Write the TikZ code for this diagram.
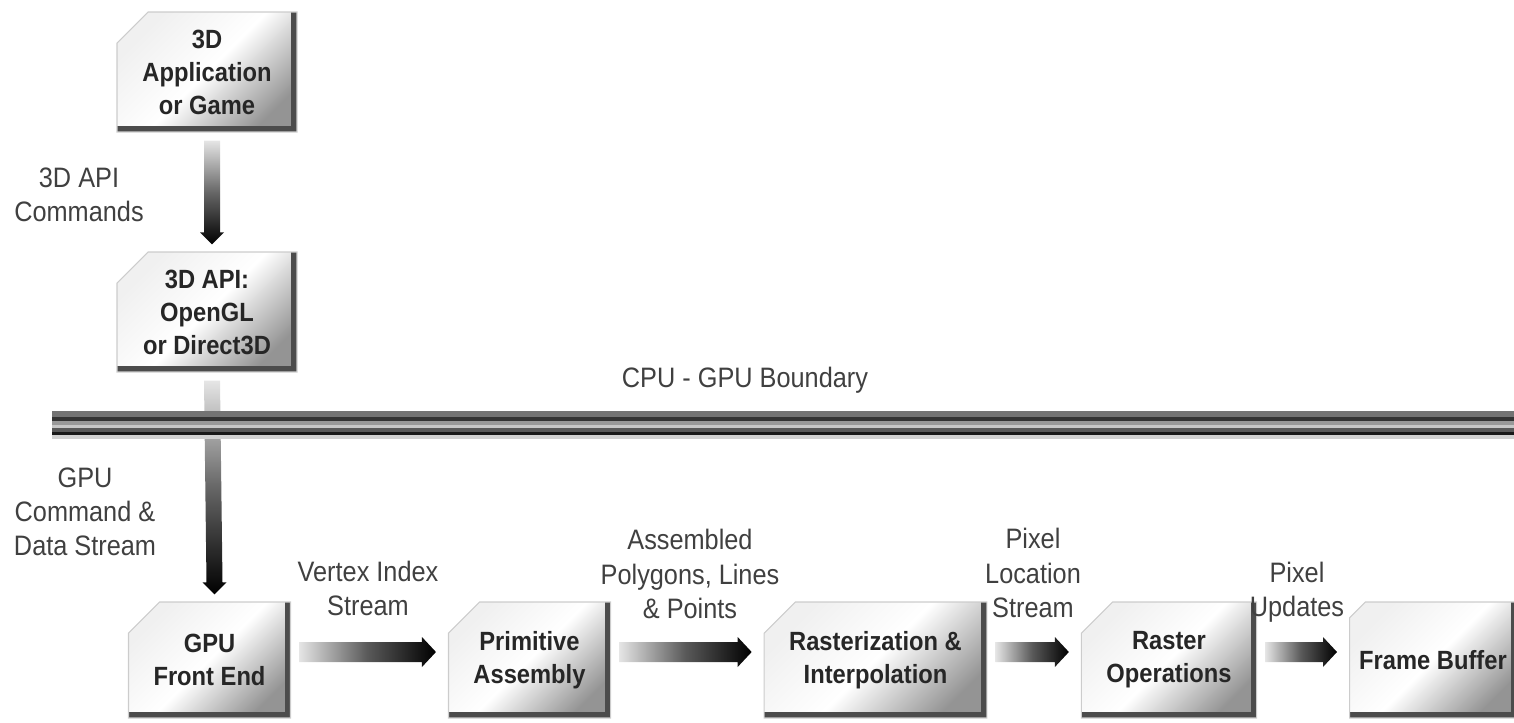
\documentclass[tikz,border=0pt]{standalone}
\usepackage{fontspec}
\setmainfont{Liberation Sans}
\newfontfamily\boxfont{Liberation Sans}[FakeStretch=0.9]
\usetikzlibrary{calc}
\usetikzlibrary{shapes.misc}
\tikzset{stage/.style = {chamfered rectangle, chamfered rectangle corners=north west,
                         chamfered rectangle xsep=0.5cm, inner sep=0pt,
                         draw=black!20, line width=0.6pt,
                         left color=black!6, right color=black!42, middle color=white,
                         shading angle=45,
                         path picture={\draw [black!70, line width=0.22cm]
                             (path picture bounding box.north east)
                             -- (path picture bounding box.south east)
                             -- (path picture bounding box.south west);},
                         font=\boxfont\bfseries\fontsize{15}{18.8}\selectfont,
                         text=black!85, align=center}}
\tikzset{flowlabel/.style = {font=\boxfont\fontsize{16}{19.4}\selectfont,
                             text=black!75, align=center}}
\newcommand\hflow[2]{%
  \path ($(#1.east)+(8,-8)$) coordinate (flowa) ($(#2.west)+(-12,-8)$) coordinate (flowb);
  \shade [left color=black!10, right color=black, middle color=black!65]
    ($(flowa)+(0,-10)$) -- ($(flowb)+(-14,-10)$) -- ($(flowb)+(-14,-15)$) -- (flowb)
    -- ($(flowb)+(-14,15)$) -- ($(flowb)+(-14,10)$) -- ($(flowa)+(0,10)$) -- cycle;}
\newcommand\vflow[2]{%
  \path ($(#1.south)+(5,8)$) coordinate (flowa) ($(#2.north)+(5,-7)$) coordinate (flowb);
  \shade [top color=black!10, bottom color=black, middle color=black!60]
    ($(flowa)+(-8,0)$) -- ($(flowb)+(-8,-12)$) -- ($(flowb)+(-12,-12)$) -- (flowb)
    -- ($(flowb)+(12,-12)$) -- ($(flowb)+(8,-12)$) -- ($(flowa)+(8,0)$) -- cycle;}

\begin{document}
\begin{tikzpicture}[x=0.02cm, y=-0.02cm]
    \useasboundingbox (0, 0) rectangle (1514, 723);

    % CPU side
    \node [stage, minimum width=3.6cm, minimum height=2.4cm] (app) at (207, 72) {3D\\Application\\or Game};
    \node [stage, minimum width=3.6cm, minimum height=2.4cm] (api) at (207, 312) {3D API:\\OpenGL\\or Direct3D};

    % GPU pipeline
    \node [stage, minimum width=2.7cm, minimum height=2.32cm] (front) at (209.5, 660) {GPU\\Front End};
    \node [stage, minimum width=2.7cm, minimum height=2.32cm] (prim) at (529.5, 660) {Primitive\\Assembly};
    \node [stage, minimum width=4.1cm, minimum height=2.32cm] (rast) at (875.5, 660) {Rasterization \&\\Interpolation};
    \node [stage, minimum width=3.04cm, minimum height=2.32cm] (rop) at (1169, 660) {Raster\\Operations};
    \node [stage, minimum width=3.24cm, minimum height=2.32cm] (fbuf) at (1433, 660) {Frame Buffer};

    \vflow{app}{api}
    \vflow{api}{front}
    \hflow{front}{prim}
    \hflow{prim}{rast}
    \hflow{rast}{rop}
    \hflow{rop}{fbuf}

    % boundary
    \foreach \ya/\yb/\tone in {411/417/55, 417/421/80, 421/425/40, 425/428/22,
                               428/432/65, 432/435/90, 435/439/18}
      \fill [black!\tone] (52, \ya) rectangle (1514, \yb);
    \node [flowlabel] (bound) at (745, 380) {CPU - GPU Boundary};

    \node [flowlabel] (cmds) at (79, 195) {3D API\\Commands};
    \node [flowlabel] (stream) at (85, 512) {GPU\\Command \&\\Data Stream};
    \node [flowlabel] (vidx) at (368, 588) {Vertex Index\\Stream};
    \node [flowlabel] (polys) at (690, 574) {Assembled\\Polygons, Lines\\\& Points};
    \node [flowlabel] (ploc) at (1033, 573) {Pixel\\Location\\Stream};
    \node [flowlabel] (pupd) at (1297, 592) {Pixel\\Updates};
\end{tikzpicture}
\end{document}
